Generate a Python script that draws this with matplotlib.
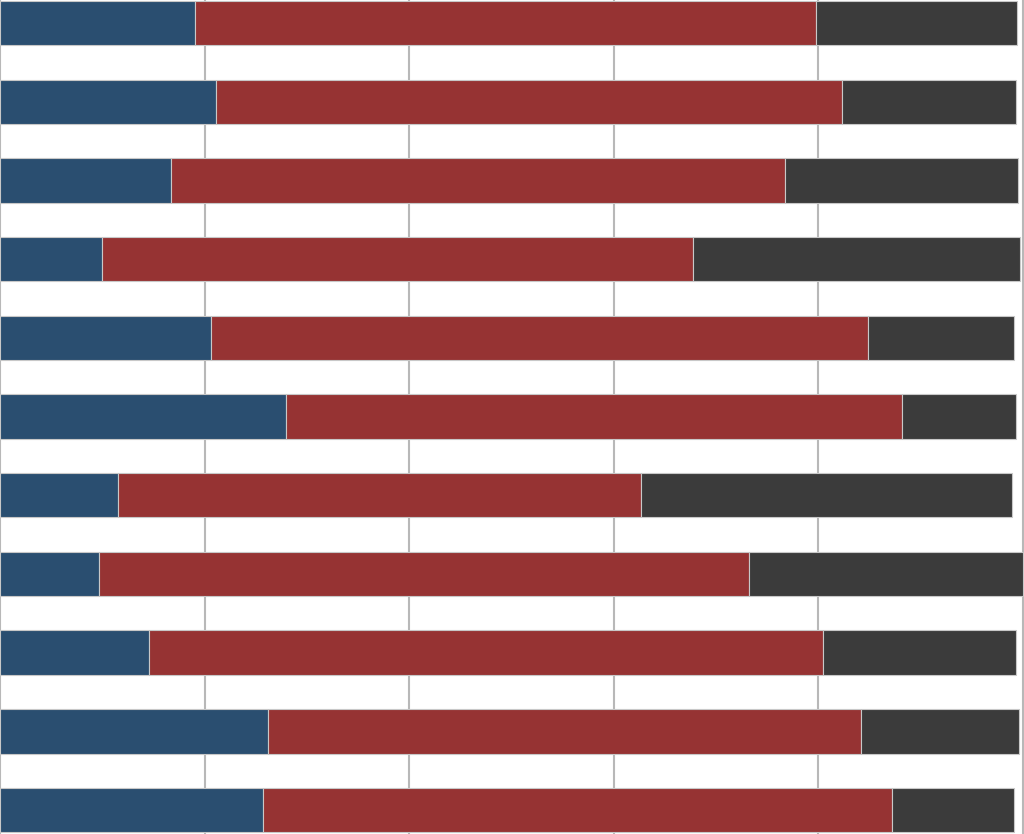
import matplotlib
matplotlib.use("Agg")
import matplotlib.pyplot as plt
import numpy as np

categories = ["Row 1", "Row 2", "Row 3", "Row 4", "Row 5", "Row 6",
              "Row 7", "Row 8", "Row 9", "Row 10", "Row 11"]
series_a = [19.1, 21.1, 16.7, 10.0, 20.6, 28.0, 11.5, 9.7, 14.6, 26.2, 25.7]
series_b = [60.7, 61.2, 60.1, 57.8, 64.3, 60.2, 51.2, 63.5, 65.9, 58.0, 61.5]
series_c = [19.6, 17.0, 22.7, 31.9, 14.3, 11.1, 36.3, 26.8, 18.8, 15.4, 12.0]
x_ticks = [0, 20, 40, 60, 80, 100]

colors = ["#2a4e70", "#963333", "#3b3b3b"]

fig = plt.figure(figsize=(10.24, 8.34), dpi=100)
ax = fig.add_axes([0, 0, 1, 1])

y = np.arange(len(categories))
a = np.array(series_a)
b = np.array(series_b)
c = np.array(series_c)
h = 0.565
kw = dict(height=h, edgecolor="#c8c8c8", linewidth=0.8, zorder=3)
ax.barh(y, a, left=0, color=colors[0], **kw)
ax.barh(y, b, left=a, color=colors[1], **kw)
ax.barh(y, c, left=a + b, color=colors[2], **kw)

ax.set_xlim(0, 100.13)
ax.set_ylim(10.305, -0.294)
ax.set_xticks(x_ticks)
ax.set_yticks([])
ax.xaxis.grid(True, color="#b8b8b8", linewidth=1.5, zorder=0)
ax.set_axisbelow(True)
ax.tick_params(length=0, labelbottom=False)
for s in ax.spines.values():
    s.set_visible(False)

fig.savefig("out.png", dpi=100)
